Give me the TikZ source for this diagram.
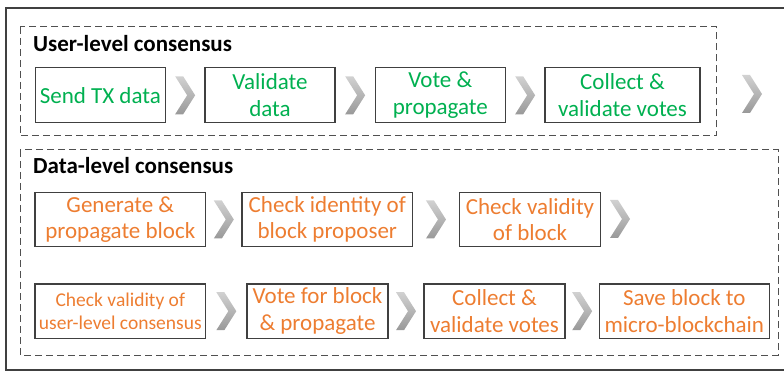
\documentclass[tikz,border=0pt]{standalone}
\usepackage{fontspec}
\setmainfont{Carlito}
\usetikzlibrary{calc}
\definecolor{txgreen}{HTML}{00B050}
\definecolor{blkorange}{HTML}{ED7D31}
\definecolor{framegray}{HTML}{404040}
\definecolor{dashgray}{HTML}{505050}
\tikzset{
  x=1pt, y=-1pt,
  stepbox/.style={draw=framegray, line width=1.1pt, inner sep=0pt, align=center,
    font=\fontsize{23}{26.7}\selectfont},
  userbox/.style={stepbox, text=txgreen, minimum width=130pt, minimum height=55pt},
  databox/.style={stepbox, text=blkorange, minimum height=54.5pt},
  groupbox/.style={draw=dashgray, line width=1pt, dash pattern=on 7pt off 4pt},
  grouptitle/.style={anchor=base west, inner sep=0pt, font=\fontsize{23}{26}\selectfont\bfseries},
  chev/.pic={
    \shade[top color=black!18, bottom color=black!40]
      (-10,-19) -- (-2,-19) -- (10,0) -- (-2,19) -- (-10,19) -- (2,0) -- cycle;
  }
}
\begin{document}
\begin{tikzpicture}
\useasboundingbox (0,0) rectangle (784,371);
% outer frame (its right edge lies beyond the page)
\draw[framegray, line width=1.2pt] (6,8) rectangle (800,370);

% user-level consensus group
\draw[groupbox] (20,27) rectangle (716.5,136);
\node[grouptitle] (ut) at (33,52) {User-level consensus};
\node[userbox] (u1) at (100.3,95.3) {Send TX data};
\node[userbox] (u2) at (270,95.3) {Validate\\data};
\node[userbox] (u3) at (440.3,95.3) {Vote \&\\propagate};
\node[userbox, minimum width=155pt] (u4) at (622.5,95.3) {Collect \&\\validate votes};
\coordinate (uend) at (752,94);
\pic at ($(u1.east)!0.5!(u2.west)$) {chev};
\pic at ($(u2.east)!0.5!(u3.west)$) {chev};
\pic at ($(u3.east)!0.5!(u4.west)$) {chev};
\pic at (uend) {chev};

% data-level consensus group
\draw[groupbox] (20,150) rectangle (778,355);
\node[grouptitle] (dt) at (33,174) {Data-level consensus};
\node[databox, minimum width=170.7pt] (d1) at (120.3,219.5) {Generate \&\\propagate block};
\node[databox, minimum width=170.7pt] (d2) at (327.3,219.5) {Check identity of\\block proposer};
\node[databox, minimum width=141.4pt] (d3) at (530,219.5) {Check validity\\of block};
\coordinate (dend) at (620,219);
\pic at ($(d1.east)!0.5!(d2.west)$) {chev};
\pic at ($(d2.east)!0.5!(d3.west)$) {chev};
\pic at (dend) {chev};

\node[databox, minimum width=170.7pt, font=\fontsize{19.5}{23.3}\selectfont] (e1) at (120.3,311.2) {Check validity of\\user-level consensus};
\node[databox, minimum width=141pt] (e2) at (317.5,311.2) {Vote for block\\\& propagate};
\node[databox, minimum width=141pt] (e3) at (494.5,311.2) {Collect \&\\validate votes};
\node[databox, minimum width=170pt] (e4) at (684.3,311.2) {Save block to\\micro-blockchain};
\pic at ($(e1.east)!0.5!(e2.west)$) {chev};
\pic at ($(e2.east)!0.5!(e3.west)$) {chev};
\pic at ($(e3.east)!0.5!(e4.west)$) {chev};
\end{tikzpicture}
\end{document}
